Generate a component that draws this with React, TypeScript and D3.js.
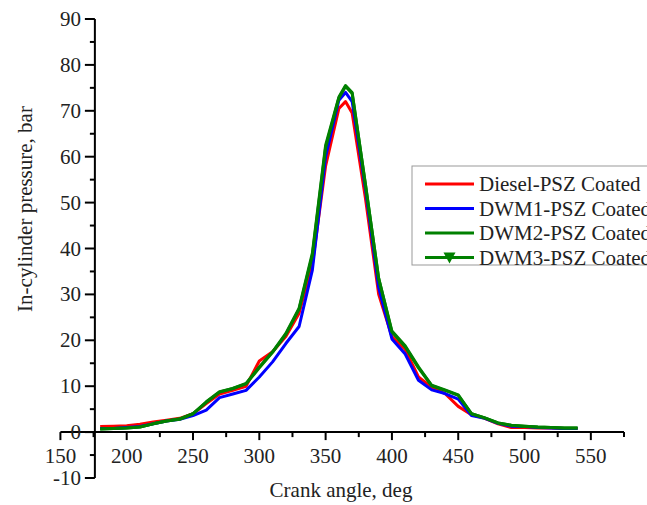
import React from "react";
import * as d3 from "d3";

// crank angle, deg
const angles = [180, 190, 200, 210, 220, 230, 240, 250, 260, 270, 280, 290, 300, 310, 320, 330, 340, 350, 360, 365, 370, 380, 390, 400, 410, 420, 430, 440, 450, 460, 470, 480, 490, 500, 510, 520, 530, 540];

// in-cylinder pressure, bar
const diesel = [1.2, 1.3, 1.4, 1.7, 2.2, 2.6, 3.0, 4.0, 6.2, 8.3, 9.1, 10, 15.5, 17.5, 20.8, 25.9, 36.5, 58, 70.5, 72, 69.5, 51, 30, 20.8, 18, 12, 9.8, 8.4, 5.6, 3.8, 3.0, 1.8, 1.0, 1.0, 0.9, 0.9, 0.8, 0.8];
const dwm1 = [0.8, 0.8, 1.0, 1.2, 1.8, 2.4, 2.8, 3.6, 4.8, 7.5, 8.3, 9.1, 12, 15.3, 19.3, 23, 35.3, 60, 72.3, 74, 72, 53, 31.5, 20.3, 17, 11.3, 9.2, 8.4, 7.2, 3.6, 3.0, 1.9, 1.3, 1.2, 1.0, 0.9, 0.8, 0.8];
const dwm2 = [0.7, 0.8, 0.9, 1.1, 1.8, 2.4, 2.8, 4.0, 6.6, 8.8, 9.5, 10.6, 14.2, 17.5, 21.5, 27, 39, 62.5, 73, 75.5, 74, 54, 33.5, 22, 18.8, 14.2, 10.2, 9.2, 8.1, 4.0, 3.1, 2.0, 1.5, 1.3, 1.1, 1.0, 0.9, 0.9];
const dwm3 = [0.7, 0.8, 0.9, 1.1, 1.8, 2.4, 2.9, 4.0, 6.5, 8.7, 9.5, 10.5, 14.0, 17.4, 21.3, 26.8, 38.5, 62, 72.8, 75.3, 73.8, 54, 33.5, 21.8, 18.6, 14.0, 10.1, 9.1, 8.0, 4.0, 3.1, 2.0, 1.5, 1.3, 1.1, 1.0, 0.9, 0.9];

const series = [
  { name: "Diesel-PSZ Coated", color: "#ff0000", values: diesel, marker: false },
  { name: "DWM1-PSZ Coated", color: "#0000ff", values: dwm1, marker: false },
  { name: "DWM2-PSZ Coated", color: "#008000", values: dwm2, marker: false },
  { name: "DWM3-PSZ Coated", color: "#008000", values: dwm3, marker: true },
];

const xTicks = [150, 200, 250, 300, 350, 400, 450, 500, 550];
const xMinor = [175, 225, 275, 325, 375, 425, 475, 525, 575];
const yTicks = [-10, 0, 10, 20, 30, 40, 50, 60, 70, 80, 90];
const yMinor = [-5, 5, 15, 25, 35, 45, 55, 65, 75, 85];

const W = 647;
const H = 505;
const FS = 21;
const txt = { fontFamily: "Liberation Serif" };

export default function App() {
  const x = d3.scaleLinear().domain([150, 575]).range([60.4, 624]);
  const y = d3.scaleLinear().domain([-10, 90]).range([478, 19]);
  const axisX = x(176); // y axis crosses x axis here
  const axisY = y(0);

  const line = d3
    .line<number>()
    .x((d, i) => x(angles[i]))
    .y((d) => y(d));

  const legendX = 412;
  const legendY = 166;
  const rowH = 24.5;

  return (
    <svg width={W} height={H} style={{ position: "absolute", left: 0, top: 0, background: "#fff" }}>
      {/* curves */}
      {series.map((s) => (
        <path key={s.name} d={line(s.values) || ""} fill="none" stroke={s.color} strokeWidth={3} strokeLinejoin="round" />
      ))}

      {/* x axis */}
      <line x1={x(150)} x2={x(575)} y1={axisY} y2={axisY} stroke="#000" strokeWidth={2} />
      {xTicks.map((t) => (
        <g key={t}>
          <line x1={x(t)} x2={x(t)} y1={axisY} y2={axisY + 8} stroke="#000" strokeWidth={2} />
          <text x={x(t)} y={463} textAnchor="middle" fontSize={FS} fill="#222" style={txt}>{t}</text>
        </g>
      ))}
      {xMinor.map((t) => (
        <line key={t} x1={x(t)} x2={x(t)} y1={axisY} y2={axisY + 5} stroke="#000" strokeWidth={2} />
      ))}

      {/* y axis */}
      <line x1={axisX} x2={axisX} y1={y(90)} y2={y(-10)} stroke="#000" strokeWidth={2} />
      {yTicks.map((t) => (
        <g key={t}>
          <line x1={axisX - 10} x2={axisX} y1={y(t)} y2={y(t)} stroke="#000" strokeWidth={2} />
          <text x={81} y={y(t) + 7} textAnchor="end" fontSize={FS} fill="#222" style={txt}>{t}</text>
        </g>
      ))}
      {yMinor.map((t) => (
        <line key={t} x1={axisX - 5} x2={axisX} y1={y(t)} y2={y(t)} stroke="#000" strokeWidth={2} />
      ))}

      {/* axis titles */}
      <text x={341} y={497} textAnchor="middle" fontSize={FS} fill="#222" style={txt}>Crank angle, deg</text>
      <text transform="translate(32,209) rotate(-90)" textAnchor="middle" fontSize={FS} fill="#222" style={txt}>In-cylinder pressure, bar</text>

      {/* legend */}
      <rect x={legendX} y={legendY} width={260} height={99} fill="#fff" stroke="#999" strokeWidth={1} />
      {series.map((s, i) => {
        const cy = legendY + 18 + i * rowH;
        return (
          <g key={s.name}>
            <line x1={425} x2={474} y1={cy} y2={cy} stroke={s.color} strokeWidth={3} />
            {s.marker && (
              <path d={`M${443.5},${cy - 5} L${455.5},${cy - 5} L${449.5},${cy + 6} Z`} fill={s.color} />
            )}
            <text x={479} y={cy + 7} fontSize={FS} fill="#222" style={txt}>{s.name}</text>
          </g>
        );
      })}
    </svg>
  );
}
